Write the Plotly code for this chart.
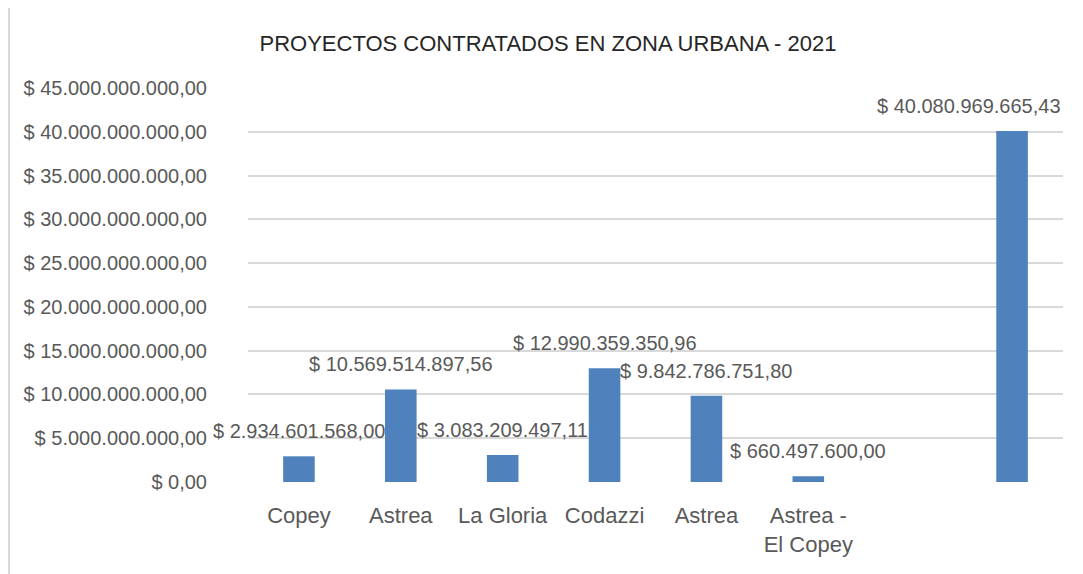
import plotly.graph_objects as go

categories = ["Copey", "Astrea", "La Gloria", "Codazzi", "Astrea", "Astrea -<br>El Copey", "", ""]
values = [2934601568.00, 10569514897.56, 3083209497.11, 12990359350.96, 9842786751.80, 660497600.00, None, 40080969665.43]
value_labels = ["$ 2.934.601.568,00", "$ 10.569.514.897,56", "$ 3.083.209.497,11", "$ 12.990.359.350,96",
                "$ 9.842.786.751,80", "$ 660.497.600,00", "", "$ 40.080.969.665,43"]
y_ticks = [0, 5e9, 10e9, 15e9, 20e9, 25e9, 30e9, 35e9, 40e9, 45e9]
y_tick_labels = ["$ 0,00", "$ 5.000.000.000,00", "$ 10.000.000.000,00", "$ 15.000.000.000,00",
                 "$ 20.000.000.000,00", "$ 25.000.000.000,00", "$ 30.000.000.000,00",
                 "$ 35.000.000.000,00", "$ 40.000.000.000,00", "$ 45.000.000.000,00"]
title_text = "PROYECTOS CONTRATADOS EN ZONA URBANA - 2021"

FONT = "Liberation Sans, Arial, sans-serif"
FS = 20
xs = list(range(len(categories)))

ML, MR, MT, MB = 240, 28, 80, 100
W, H = 1083, 574
plot_w = W - ML - MR

fig = go.Figure()
fig.add_trace(go.Bar(x=xs, y=values, width=0.31, marker=dict(color="#4F81BD", line=dict(width=0)),
                     hoverinfo="skip"))

last = len(xs) - 1
for x, v, lab in zip(xs, values, value_labels):
    if v is None or not lab:
        continue
    if x == last:
        fig.add_annotation(x=x, y=v, text=lab, showarrow=False, yanchor="middle", yshift=25,
                           xanchor="right", xshift=51,
                           font=dict(family=FONT, size=FS, color="#595959"))
    else:
        fig.add_annotation(x=x, y=v, text=lab, showarrow=False, yanchor="middle", yshift=25,
                           font=dict(family=FONT, size=FS, color="#595959"))

fig.add_shape(type="line", xref="paper", yref="paper", x0=-(ML - 1) / plot_w, x1=-(ML - 1) / plot_w,
              y0=-1, y1=2, line=dict(color="#D9D9D9", width=2))

fig.update_layout(
    width=W, height=H,
    margin=dict(l=ML, r=MR, t=MT, b=MB),
    paper_bgcolor="white", plot_bgcolor="white",
    showlegend=False,
    title=dict(text=title_text, x=(540) / W, xanchor="center", y=1 - 35 / H, yanchor="middle",
               xref="paper" if False else "container",
               font=dict(family=FONT, size=22, color="#262626")),
    xaxis=dict(range=[-0.5, 7.5], tickmode="array", tickvals=xs, ticktext=categories,
               showgrid=False, zeroline=False, showline=False, ticks="", automargin=False,
               ticklabelstandoff=18,
               tickfont=dict(family=FONT, size=22, color="#595959")),
    yaxis=dict(range=[0, 45e9], tickmode="array", tickvals=y_ticks, ticktext=y_tick_labels,
               showgrid=True, gridcolor="#D9D9D9", gridwidth=2, zeroline=False, showline=False,
               ticks="", ticklabelstandoff=40, automargin=False,
               tickfont=dict(family=FONT, size=FS, color="#595959")),
)

fig.write_html("out.html")
